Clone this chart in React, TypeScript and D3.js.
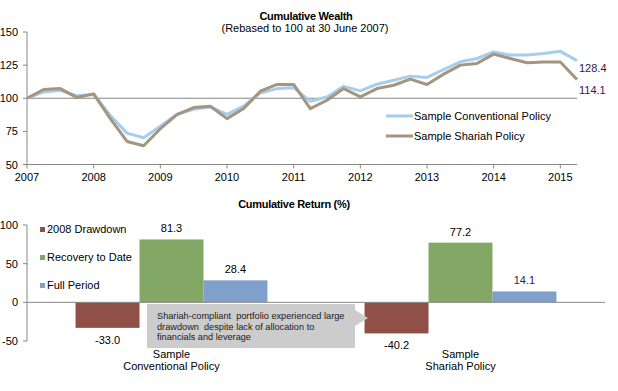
import * as d3 from 'd3';

// quarterly cumulative wealth, Q2 2007 .. Q1 2015 + end point
const conventional = [
  100, 104.8, 106, 101.8, 102.8, 87, 73.7, 70.2, 78.8, 87.9, 91.7, 93.4, 87.9, 94, 104, 107.3, 108,
  97.7, 101, 109, 105.6, 110.6, 113.6, 116.7, 115.7, 121.7, 127.5, 130, 135, 132.6, 132.6, 133.8,
  135.4, 128.4,
];
const shariah = [
  100, 106.6, 107.3, 100.5, 103.3, 84.6, 67.4, 64.1, 77, 87.6, 93, 94, 84.6, 92.2, 105.3, 110.4,
  110.4, 92.2, 98.5, 107.3, 101, 107.3, 109.8, 114.4, 110.4, 118.2, 125, 126.3, 133.3, 130, 126.8,
  127.3, 127.3, 114.1,
];
const years = [2007, 2008, 2009, 2010, 2011, 2012, 2013, 2014, 2015];
const wealthTicks = [50, 75, 100, 125, 150];

const policies = ['Sample Conventional Policy', 'Sample Shariah Policy'];
const returnSeries = ['2008 Drawdown', 'Recovery to Date', 'Full Period'];
const drawdown = [-33.0, -40.2];
const recovery = [81.3, 77.2];
const fullPeriod = [28.4, 14.1];
const returnTicks = [-50, 0, 50, 100];

const lineColors = ['#A7CDEE', '#A39580'];
const barColors = ['#904F47', '#83A866', '#819FCB'];
const axisColor = '#878787';
const font = '"Liberation Sans", Arial, sans-serif';

const App = () => {
  // top chart
  const x = d3.scaleLinear([0, conventional.length - 1], [27, 577]);
  const y = d3.scaleLinear([50, 150], [164.5, 32]);
  const line = d3.line<number>((_d, i) => x(i), y);

  // bottom chart
  const xb = d3.scaleBand(policies, [27, 605]).paddingInner(0.336).paddingOuter(0.168);
  const xs = d3.scaleBand(returnSeries, [0, xb.bandwidth()]);
  const yb = d3.scaleLinear([-50, 100], [341, 225]);
  const values = [drawdown, recovery, fullPeriod];

  return (
    <svg
      width={618}
      height={391}
      style={{ position: 'absolute', left: 0, top: 0, background: '#fff' }}
      fontFamily={font}
      fontSize={11}
    >
      {/* ---------- Cumulative Wealth ---------- */}
      <text x={306} y={20} textAnchor='middle' fontWeight='bold' letterSpacing={-0.3}>
        Cumulative Wealth
      </text>
      <text x={305} y={32} textAnchor='middle'>
        (Rebased to 100 at 30 June 2007)
      </text>

      <line x1={x(0)} x2={x(conventional.length - 1)} y1={y(100)} y2={y(100)} stroke={axisColor} />
      <line x1={27} x2={27} y1={y(150)} y2={y(50)} stroke={axisColor} />
      <line x1={27} x2={x(conventional.length - 1)} y1={y(50)} y2={y(50)} stroke={axisColor} />
      {wealthTicks.map((t) => (
        <g key={t}>
          <line x1={23} x2={27} y1={y(t)} y2={y(t)} stroke={axisColor} />
          <text x={18} y={y(t) + 4} textAnchor='end'>
            {t}
          </text>
        </g>
      ))}
      {years.map((yr, i) => (
        <g key={yr}>
          <line x1={x(i * 4)} x2={x(i * 4)} y1={y(50)} y2={y(50) + 4} stroke={axisColor} />
          <text x={x(i * 4)} y={181} textAnchor='middle'>
            {yr}
          </text>
        </g>
      ))}

      {[conventional, shariah].map((s, i) => (
        <path
          key={i}
          d={line(s) ?? undefined}
          fill='none'
          stroke={lineColors[i]}
          strokeWidth={3}
          strokeLinejoin='round'
        />
      ))}
      <text x={579} y={y(conventional[conventional.length - 1]) + 11.5} fill='#3C1450'>
        {conventional[conventional.length - 1].toFixed(1)}
      </text>
      <text x={579} y={y(shariah[shariah.length - 1]) + 14.5} fill='#3C1450'>
        {shariah[shariah.length - 1].toFixed(1)}
      </text>

      {policies.map((p, i) => (
        <g key={p} transform={`translate(386, ${116 + i * 20})`}>
          <line x1={0} x2={27} stroke={lineColors[i]} strokeWidth={3} />
          <text x={28} y={4}>
            {p}
          </text>
        </g>
      ))}

      {/* ---------- Cumulative Return ---------- */}
      <text x={294} y={208} textAnchor='middle' fontWeight='bold' letterSpacing={-0.3}>
        Cumulative Return (%)
      </text>

      {values.map((vals, si) =>
        policies.map((p, pi) => {
          const v = vals[pi];
          const bx = (xb(p) ?? 0) + (xs(returnSeries[si]) ?? 0);
          return (
            <g key={`${si}-${pi}`}>
              <rect
                x={bx}
                y={yb(Math.max(0, v))}
                width={xs.bandwidth()}
                height={Math.abs(yb(v) - yb(0))}
                fill={barColors[si]}
              />
              <text
                x={bx + xs.bandwidth() / 2}
                y={v >= 0 ? yb(v) - 7 : yb(v) + 16}
                textAnchor='middle'
                fill={si === 2 && pi === 1 ? '#3C1450' : '#000'}
              >
                {v.toFixed(1)}
              </text>
            </g>
          );
        }),
      )}

      <line x1={27} x2={605} y1={yb(0)} y2={yb(0)} stroke={axisColor} />
      <line x1={27} x2={27} y1={yb(100)} y2={yb(-50)} stroke={axisColor} />
      {returnTicks.map((t) => (
        <g key={t}>
          <line x1={23} x2={27} y1={yb(t)} y2={yb(t)} stroke={axisColor} />
          <text x={18} y={yb(t) + 4} textAnchor='end'>
            {t}
          </text>
        </g>
      ))}

      {policies.map((p) => {
        const words = p.split(' ');
        const cx = (xb(p) ?? 0) + xb.bandwidth() / 2;
        return (
          <text key={p} x={cx} textAnchor='middle'>
            <tspan x={cx} y={358}>
              {words[0]}
            </tspan>
            <tspan x={cx} y={370}>
              {words.slice(1).join(' ')}
            </tspan>
          </text>
        );
      })}

      {returnSeries.map((s, i) => (
        <g key={s} transform={`translate(40, ${227 + i * 28})`}>
          <rect width={5} height={5} fill={barColors[i]} />
          <text x={7} y={6}>
            {s}
          </text>
        </g>
      ))}

      {/* annotation callout */}
      <path d='M147,304 H355 V310 L368,318 L355,326 V348 H147 Z' fill='#CCCCCC' />
      <text fontSize={9.2} fill='#1a1a1a' style={{ whiteSpace: 'pre' }}>
        <tspan x={157} y={319}>
          Shariah-compliant  portfolio experienced large
        </tspan>
        <tspan x={157} y={329.5}>
          drawdown  despite lack of allocation to
        </tspan>
        <tspan x={157} y={340}>
          financials and leverage
        </tspan>
      </text>
    </svg>
  );
};

export default App;
